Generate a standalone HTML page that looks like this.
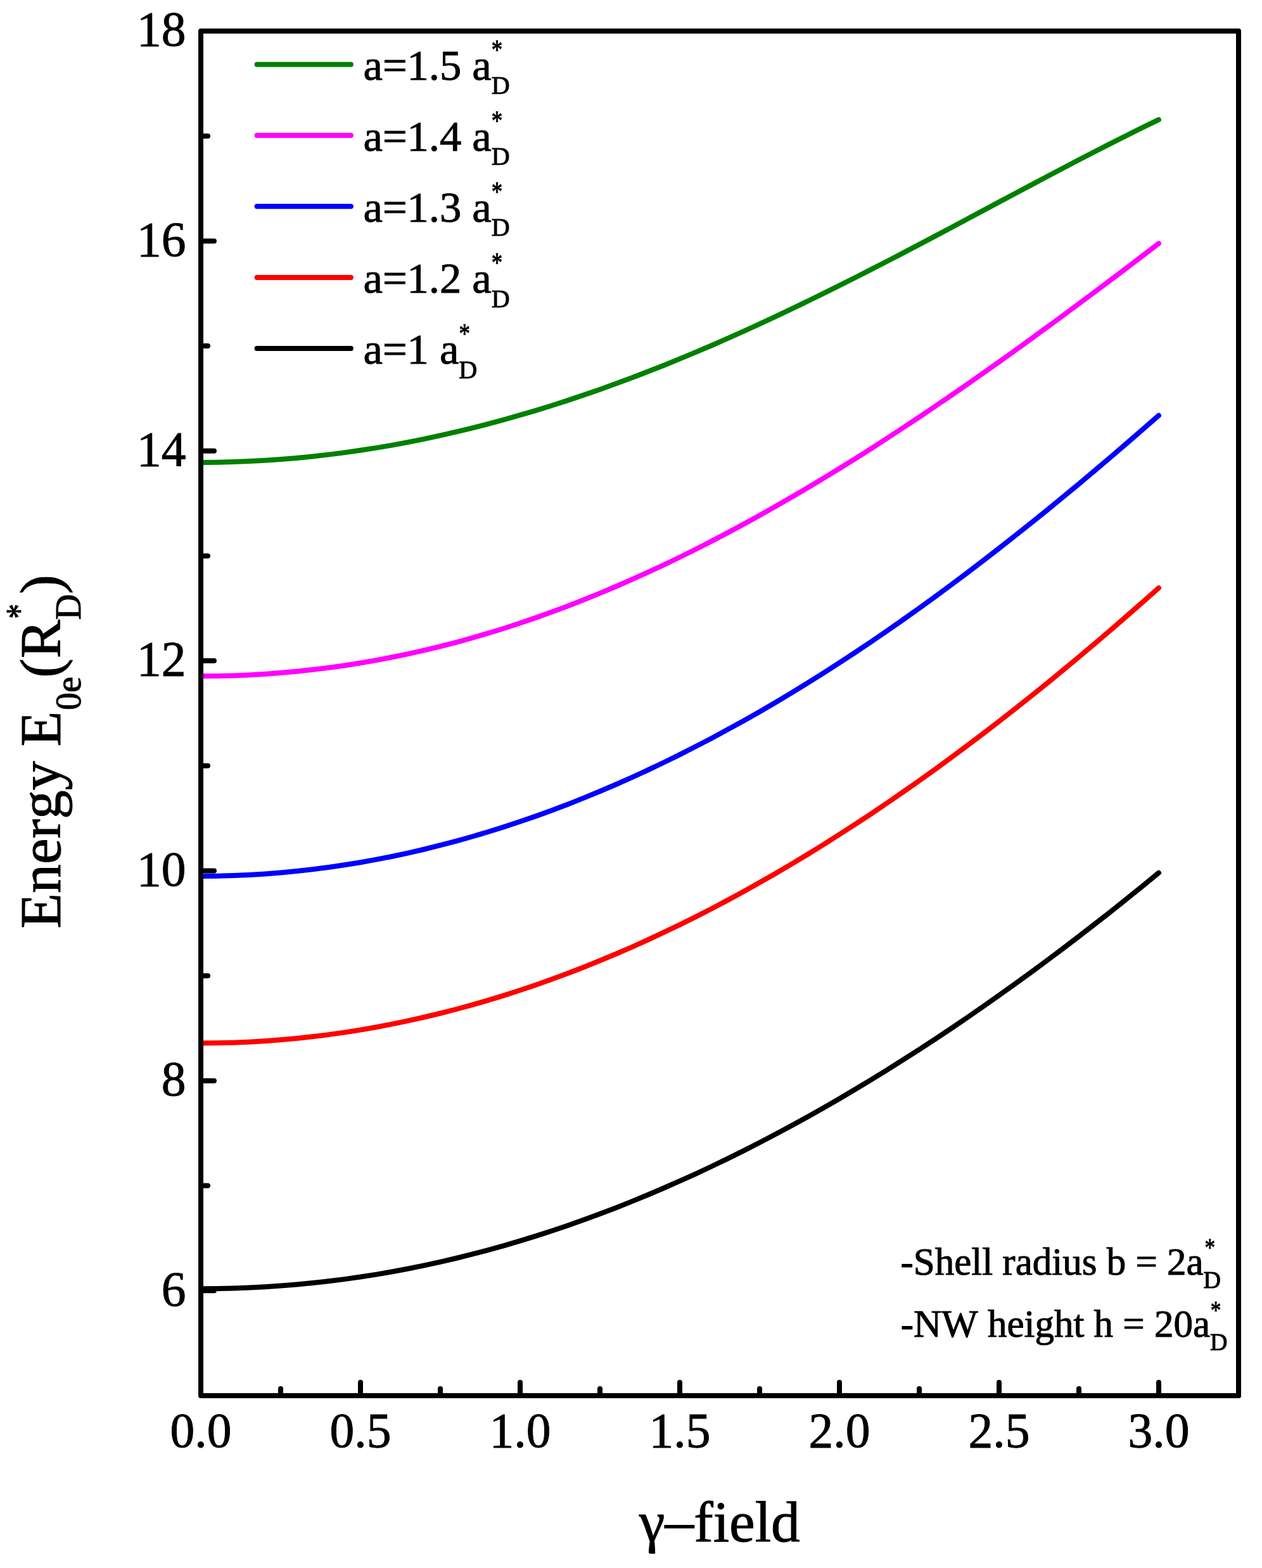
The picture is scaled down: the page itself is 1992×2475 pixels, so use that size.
<!DOCTYPE html>
<html><head><meta charset="utf-8"><title>Energy vs gamma-field</title>
<style>
html,body{margin:0;padding:0;background:#fff;overflow:hidden;}
svg{display:block;}
text{font-family:"Liberation Serif","Times New Roman",serif;fill:#000;stroke:#000;stroke-width:1px;font-kerning:none;}
</style></head><body>
<svg width="1992" height="2475" viewBox="0 0 1992 2475">
<rect x="0" y="0" width="1992" height="2475" fill="#fff"/>
<path d="M317.0,729.9 342.2,729.7 367.4,729.1 392.6,728.1 417.8,726.8 443.0,725.1 468.2,723.0 493.4,720.5 518.6,717.6 543.8,714.4 569.0,710.8 594.2,706.9 619.4,702.6 644.6,697.9 669.8,692.8 695.0,687.4 720.2,681.7 745.4,675.6 770.6,669.2 795.8,662.4 821.0,655.2 846.2,647.8 871.4,640.0 896.6,631.9 921.8,623.4 947.0,614.7 972.2,605.6 997.4,596.3 1022.6,586.6 1047.8,576.7 1073.0,566.4 1098.2,555.9 1123.4,545.2 1148.6,534.1 1173.8,522.9 1199.0,511.4 1224.2,499.6 1249.4,487.7 1274.6,475.5 1299.8,463.2 1325.0,450.7 1350.2,438.0 1375.4,425.1 1400.6,412.2 1425.8,399.1 1451.0,385.9 1476.2,372.6 1501.4,359.2 1526.6,345.8 1551.8,332.4 1577.0,318.9 1602.2,305.5 1627.4,292.1 1652.6,278.7 1677.8,265.5 1703.0,252.3 1728.2,239.3 1753.4,226.4 1778.6,213.7 1803.8,201.2 1829.0,188.9" fill="none" stroke="#008000" stroke-width="8" stroke-linejoin="round" stroke-linecap="round"/>
<path d="M317.0,1067.2 342.2,1067.0 367.4,1066.4 392.6,1065.4 417.8,1063.9 443.0,1062.1 468.2,1059.8 493.4,1057.1 518.6,1054.0 543.8,1050.5 569.0,1046.5 594.2,1042.1 619.4,1037.3 644.6,1032.1 669.8,1026.4 695.0,1020.3 720.2,1013.8 745.4,1006.8 770.6,999.5 795.8,991.7 821.0,983.5 846.2,974.9 871.4,965.8 896.6,956.4 921.8,946.6 947.0,936.4 972.2,925.7 997.4,914.7 1022.6,903.3 1047.8,891.6 1073.0,879.5 1098.2,867.0 1123.4,854.1 1148.6,840.9 1173.8,827.4 1199.0,813.5 1224.2,799.3 1249.4,784.8 1274.6,770.0 1299.8,754.9 1325.0,739.5 1350.2,723.8 1375.4,707.8 1400.6,691.5 1425.8,675.0 1451.0,658.3 1476.2,641.3 1501.4,624.1 1526.6,606.7 1551.8,589.0 1577.0,571.2 1602.2,553.2 1627.4,535.0 1652.6,516.6 1677.8,498.1 1703.0,479.4 1728.2,460.6 1753.4,441.7 1778.6,422.7 1803.8,403.5 1829.0,384.3" fill="none" stroke="#ff00ff" stroke-width="8" stroke-linejoin="round" stroke-linecap="round"/>
<path d="M317.0,1383.0 342.2,1382.7 367.4,1382.1 392.6,1381.0 417.8,1379.4 443.0,1377.5 468.2,1375.1 493.4,1372.2 518.6,1369.0 543.8,1365.3 569.0,1361.2 594.2,1356.6 619.4,1351.7 644.6,1346.3 669.8,1340.5 695.0,1334.2 720.2,1327.6 745.4,1320.5 770.6,1313.0 795.8,1305.1 821.0,1296.8 846.2,1288.1 871.4,1278.9 896.6,1269.4 921.8,1259.4 947.0,1249.0 972.2,1238.2 997.4,1227.1 1022.6,1215.5 1047.8,1203.5 1073.0,1191.1 1098.2,1178.3 1123.4,1165.2 1148.6,1151.6 1173.8,1137.7 1199.0,1123.4 1224.2,1108.7 1249.4,1093.6 1274.6,1078.1 1299.8,1062.3 1325.0,1046.1 1350.2,1029.6 1375.4,1012.7 1400.6,995.5 1425.8,977.9 1451.0,960.0 1476.2,941.7 1501.4,923.1 1526.6,904.2 1551.8,885.0 1577.0,865.5 1602.2,845.7 1627.4,825.6 1652.6,805.3 1677.8,784.7 1703.0,763.8 1728.2,742.6 1753.4,721.2 1778.6,699.6 1803.8,677.8 1829.0,655.8" fill="none" stroke="#0000ff" stroke-width="8" stroke-linejoin="round" stroke-linecap="round"/>
<path d="M317.0,1646.6 342.2,1646.3 367.4,1645.7 392.6,1644.7 417.8,1643.2 443.0,1641.3 468.2,1639.0 493.4,1636.3 518.6,1633.1 543.8,1629.6 569.0,1625.6 594.2,1621.2 619.4,1616.4 644.6,1611.2 669.8,1605.5 695.0,1599.5 720.2,1593.0 745.4,1586.1 770.6,1578.8 795.8,1571.1 821.0,1563.0 846.2,1554.5 871.4,1545.5 896.6,1536.2 921.8,1526.4 947.0,1516.3 972.2,1505.8 997.4,1494.8 1022.6,1483.5 1047.8,1471.7 1073.0,1459.6 1098.2,1447.1 1123.4,1434.2 1148.6,1420.9 1173.8,1407.2 1199.0,1393.1 1224.2,1378.7 1249.4,1363.9 1274.6,1348.7 1299.8,1333.1 1325.0,1317.2 1350.2,1300.9 1375.4,1284.3 1400.6,1267.3 1425.8,1249.9 1451.0,1232.2 1476.2,1214.2 1501.4,1195.8 1526.6,1177.0 1551.8,1158.0 1577.0,1138.6 1602.2,1118.9 1627.4,1098.9 1652.6,1078.6 1677.8,1057.9 1703.0,1037.0 1728.2,1015.7 1753.4,994.2 1778.6,972.4 1803.8,950.3 1829.0,928.0" fill="none" stroke="#ff0000" stroke-width="8" stroke-linejoin="round" stroke-linecap="round"/>
<path d="M317.0,2034.3 342.2,2034.1 367.4,2033.6 392.6,2032.6 417.8,2031.3 443.0,2029.6 468.2,2027.6 493.4,2025.1 518.6,2022.3 543.8,2019.1 569.0,2015.5 594.2,2011.6 619.4,2007.2 644.6,2002.5 669.8,1997.4 695.0,1991.9 720.2,1986.0 745.4,1979.7 770.6,1973.1 795.8,1966.1 821.0,1958.7 846.2,1950.9 871.4,1942.7 896.6,1934.2 921.8,1925.3 947.0,1916.0 972.2,1906.4 997.4,1896.4 1022.6,1886.0 1047.8,1875.3 1073.0,1864.2 1098.2,1852.8 1123.4,1841.0 1148.6,1828.8 1173.8,1816.3 1199.0,1803.5 1224.2,1790.3 1249.4,1776.8 1274.6,1762.9 1299.8,1748.7 1325.0,1734.2 1350.2,1719.3 1375.4,1704.1 1400.6,1688.6 1425.8,1672.7 1451.0,1656.6 1476.2,1640.1 1501.4,1623.3 1526.6,1606.2 1551.8,1588.8 1577.0,1571.1 1602.2,1553.1 1627.4,1534.8 1652.6,1516.1 1677.8,1497.2 1703.0,1478.0 1728.2,1458.5 1753.4,1438.8 1778.6,1418.7 1803.8,1398.3 1829.0,1377.7" fill="none" stroke="#000000" stroke-width="8" stroke-linejoin="round" stroke-linecap="round"/>
<path d="M443.0,2203V2192M569.0,2203V2182M695.0,2203V2192M821.0,2203V2182M947.0,2203V2192M1073.0,2203V2182M1199.0,2203V2192M1325.0,2203V2182M1451.0,2203V2192M1577.0,2203V2182M1703.0,2203V2192M1829.0,2203V2182M1955.0,2203V2192M317,2037.3H338M317,1871.6H328M317,1705.9H338M317,1540.2H328M317,1374.5H338M317,1208.8H328M317,1043.1H338M317,877.5H328M317,711.8H338M317,546.1H328M317,380.4H338M317,214.7H328" fill="none" stroke="#000" stroke-width="8" stroke-linecap="round"/>
<rect x="317" y="49" width="1638" height="2154" fill="none" stroke="#000" stroke-width="8" stroke-linejoin="round"/>
<text x="293.5" y="2060.6" font-size="77.5" text-anchor="end">6</text>
<text x="293.5" y="1729.2" font-size="77.5" text-anchor="end">8</text>
<text x="293.5" y="1397.8" font-size="77.5" text-anchor="end">10</text>
<text x="293.5" y="1066.4" font-size="77.5" text-anchor="end">12</text>
<text x="293.5" y="735.1" font-size="77.5" text-anchor="end">14</text>
<text x="293.5" y="403.7" font-size="77.5" text-anchor="end">16</text>
<text x="293.5" y="72.3" font-size="77.5" text-anchor="end">18</text>
<text x="317.0" y="2283.5" font-size="77.5" text-anchor="middle">0.0</text>
<text x="569.0" y="2283.5" font-size="77.5" text-anchor="middle">0.5</text>
<text x="821.0" y="2283.5" font-size="77.5" text-anchor="middle">1.0</text>
<text x="1073.0" y="2283.5" font-size="77.5" text-anchor="middle">1.5</text>
<text x="1325.0" y="2283.5" font-size="77.5" text-anchor="middle">2.0</text>
<text x="1577.0" y="2283.5" font-size="77.5" text-anchor="middle">2.5</text>
<text x="1829.0" y="2283.5" font-size="77.5" text-anchor="middle">3.0</text>
<text x="1009" y="2433.3" font-size="91.5">γ<tspan dy="-2.5">–</tspan><tspan dy="2.5">field</tspan></text>
<text transform="rotate(-90)" font-size="91.5"><tspan x="-1465.7" y="95">Energy E</tspan><tspan x="-1120.9" y="127" font-size="56">0e</tspan><tspan x="-1069.7" y="95">(R</tspan><tspan x="-978.2" y="127" font-size="56">D</tspan><tspan x="-937.8" y="95">)</tspan></text>
<text transform="rotate(-90) translate(-976.8,50.2) scale(0.8,1)" font-size="59">*</text>
<line x1="405.6" y1="101.7" x2="553.9" y2="101.7" stroke="#008000" stroke-width="8" stroke-linecap="round"/>
<text x="573.5" y="125.8" font-size="68.5">a=1.5 a<tspan x="775.7" y="148.3" font-size="40">D</tspan></text>
<text transform="translate(775.8,93.0) scale(0.8,1)" font-size="43.6">*</text>
<line x1="405.6" y1="213.8" x2="553.9" y2="213.8" stroke="#ff00ff" stroke-width="8" stroke-linecap="round"/>
<text x="573.5" y="237.9" font-size="68.5">a=1.4 a<tspan x="775.7" y="260.4" font-size="40">D</tspan></text>
<text transform="translate(775.8,205.1) scale(0.8,1)" font-size="43.6">*</text>
<line x1="405.6" y1="325.8" x2="553.9" y2="325.8" stroke="#0000ff" stroke-width="8" stroke-linecap="round"/>
<text x="573.5" y="349.9" font-size="68.5">a=1.3 a<tspan x="775.7" y="372.4" font-size="40">D</tspan></text>
<text transform="translate(775.8,317.1) scale(0.8,1)" font-size="43.6">*</text>
<line x1="405.6" y1="437.9" x2="553.9" y2="437.9" stroke="#ff0000" stroke-width="8" stroke-linecap="round"/>
<text x="573.5" y="462.0" font-size="68.5">a=1.2 a<tspan x="775.7" y="484.5" font-size="40">D</tspan></text>
<text transform="translate(775.8,429.2) scale(0.8,1)" font-size="43.6">*</text>
<line x1="405.6" y1="549.9" x2="553.9" y2="549.9" stroke="#000000" stroke-width="8" stroke-linecap="round"/>
<text x="573.5" y="574.0" font-size="68.5">a=1 a<tspan x="724.3" y="596.5" font-size="40">D</tspan></text>
<text transform="translate(724.4,541.2) scale(0.8,1)" font-size="43.6">*</text>
<text x="1421.4" y="2011.8" font-size="61">-Shell radius b = 2a<tspan x="1899.6" y="2032.8" font-size="38">D</tspan></text>
<text transform="translate(1901.6,1981.9) scale(0.83,1)" font-size="40">*</text>
<text x="1421.7" y="2110.4" font-size="61">-NW height h = 20a<tspan x="1910.1" y="2131.4" font-size="38">D</tspan></text>
<text transform="translate(1910.7,2080.8) scale(0.83,1)" font-size="40">*</text>
</svg>
</body></html>
